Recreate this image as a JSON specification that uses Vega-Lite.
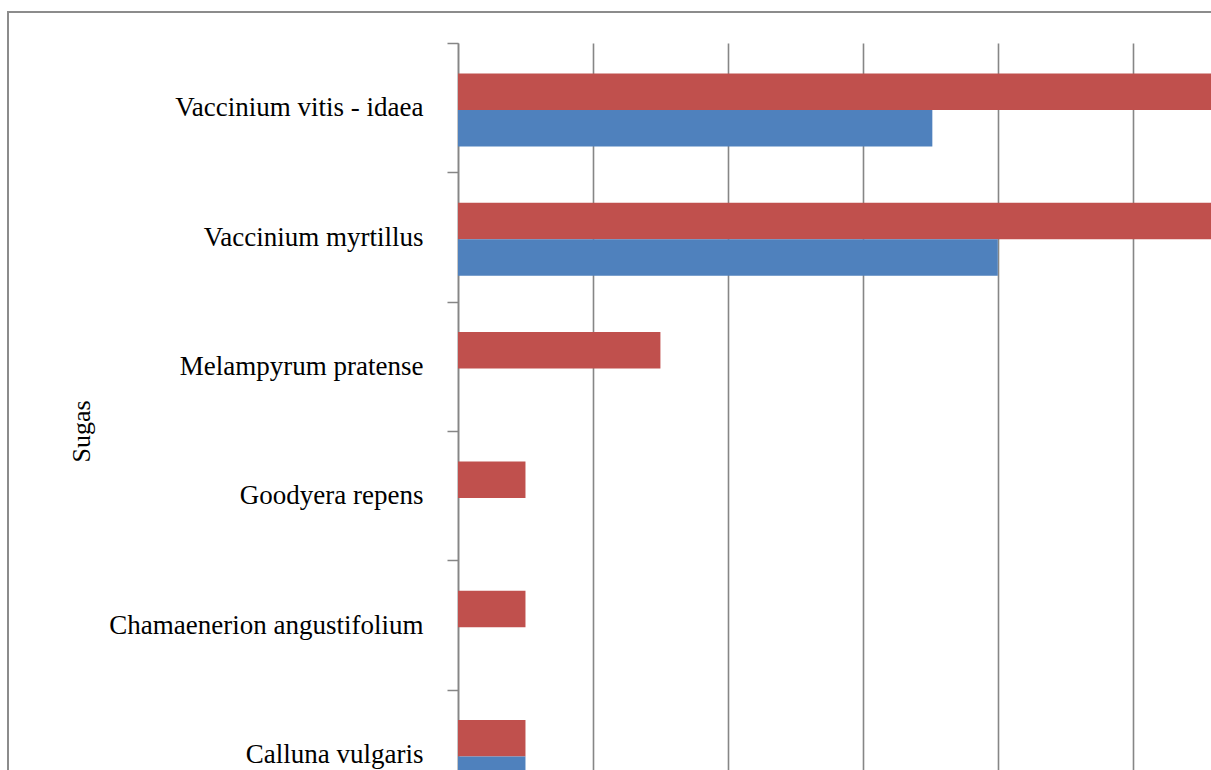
{
  "$schema": "https://vega.github.io/schema/vega-lite/v6.json",
  "width": 1225,
  "height": 780,
  "autosize": "none",
  "padding": {"left": 8, "top": 12, "right": -22, "bottom": -22},
  "background": "white",
  "config": {"view": {"stroke": "#8c8c8c", "strokeWidth": 2, "fill": "white"}},
  "data": {
    "values": [
      {"species": "Vaccinium vitis - idaea", "series": "Series 2", "value": 12},
      {"species": "Vaccinium vitis - idaea", "series": "Series 1", "value": 7.03},
      {"species": "Vaccinium myrtillus", "series": "Series 2", "value": 12},
      {"species": "Vaccinium myrtillus", "series": "Series 1", "value": 8},
      {"species": "Melampyrum pratense", "series": "Series 2", "value": 3},
      {"species": "Goodyera repens", "series": "Series 2", "value": 1},
      {"species": "Chamaenerion angustifolium", "series": "Series 2", "value": 1},
      {"species": "Calluna vulgaris", "series": "Series 2", "value": 1},
      {"species": "Calluna vulgaris", "series": "Series 1", "value": 1}
    ]
  },
  "mark": {"type": "bar", "clip": true},
  "encoding": {
    "y": {
      "field": "species",
      "type": "nominal",
      "sort": ["Vaccinium vitis - idaea", "Vaccinium myrtillus", "Melampyrum pratense", "Goodyera repens", "Chamaenerion angustifolium", "Calluna vulgaris"],
      "scale": {"range": [31, 807], "paddingInner": 0, "paddingOuter": 0},
      "axis": {
        "title": "Sugas",
        "offset": -450,
        "grid": false,
        "tickBand": "extent",
        "tickSize": 11,
        "tickColor": "#868686",
        "tickWidth": 1.5,
        "domainColor": "#868686",
        "domainWidth": 1.5,
        "labelFont": "Liberation Serif",
        "labelFontSize": 27,
        "labelColor": "#000000",
        "labelPadding": 24,
        "labelLimit": 0,
        "titleFont": "Liberation Serif",
        "titleFontSize": 26,
        "titleFontWeight": "normal",
        "titleColor": "#000000",
        "titleX": -377,
        "titleBaseline": "middle"
      }
    },
    "yOffset": {
      "field": "series",
      "type": "nominal",
      "sort": ["Series 2", "Series 1"],
      "scale": {"paddingOuter": 0.77, "paddingInner": 0, "align": 0.54}
    },
    "x": {
      "field": "value",
      "type": "quantitative",
      "scale": {"domain": [0, 11.16], "range": [450, 1203], "nice": false},
      "axis": {
        "orient": "top",
        "values": [0, 2, 4, 6, 8, 10],
        "labels": false,
        "ticks": false,
        "domain": false,
        "title": null,
        "grid": true,
        "gridColor": "#868686",
        "gridWidth": 1.6
      }
    },
    "color": {
      "field": "series",
      "type": "nominal",
      "scale": {"domain": ["Series 1", "Series 2"], "range": ["#4F81BD", "#C0504D"]},
      "legend": null
    }
  }
}
